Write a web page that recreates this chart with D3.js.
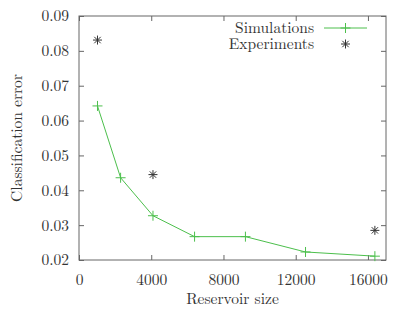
<!DOCTYPE html>
<html>
<head>
    <script src="https://d3js.org/d3.v7.min.js"></script>
    <style>
        body { margin: 0; background: #fff; }
        svg text { fill: #333; }
    </style>
</head>
<body>
    <svg width="416" height="312"></svg>
    <script>
        // reservoir sizes (squares of 32..128)
        var simSizes = [1024, 2304, 4096, 6400, 9216, 12544, 16384];
        var simError = [0.0642, 0.0436, 0.0327, 0.0267, 0.0267, 0.0223, 0.0211];
        var expSizes = [1024, 4096, 16384];
        var expError = [0.0831, 0.0445, 0.0285];
        var xTicks = [0, 4000, 8000, 12000, 16000];
        var yTicks = [0.02, 0.03, 0.04, 0.05, 0.06, 0.07, 0.08, 0.09];

        var svg = d3.select("svg")
            .attr("font-family", "'Latin Modern Roman', 'Liberation Serif', serif");
        var plotLeft = 79, plotRight = 386, plotTop = 16, plotBottom = 260;
        var green = "#4cbf4c", border = "#666";
        var fs = 15.5;

        var x = d3.scaleLinear().domain([0, 17000]).range([plotLeft, plotRight]);
        var y = d3.scaleLinear().domain([0.02, 0.09]).range([plotBottom, plotTop]);

        var tl = 5; // inward tick length

        // bottom and top axes (ticks point inward)
        svg.append("g").attr("transform", "translate(0," + plotBottom + ")")
            .call(d3.axisBottom(x).tickValues(xTicks).tickSize(-tl).tickPadding(14).tickFormat(d3.format("d")))
            .call(styleAxis);
        svg.append("g").attr("transform", "translate(0," + plotTop + ")")
            .call(d3.axisTop(x).tickValues(xTicks).tickSize(-tl).tickFormat(""))
            .call(styleAxis);
        svg.append("g").attr("transform", "translate(" + plotLeft + ",0)")
            .call(d3.axisLeft(y).tickValues(yTicks).tickSize(-tl).tickPadding(10).tickFormat(d3.format(".2f")))
            .call(styleAxis);
        svg.append("g").attr("transform", "translate(" + plotRight + ",0)")
            .call(d3.axisRight(y).tickValues(yTicks).tickSize(-tl).tickFormat(""))
            .call(styleAxis);

        function styleAxis(g) {
            g.attr("font-family", null).attr("font-size", fs);
            g.select(".domain").remove();
            g.selectAll(".tick line").attr("stroke", border);
            g.selectAll(".tick text").attr("fill", "#333");
        }

        svg.append("rect")
            .attr("x", plotLeft).attr("y", plotTop)
            .attr("width", plotRight - plotLeft).attr("height", plotBottom - plotTop)
            .attr("fill", "none").attr("stroke", border).attr("stroke-width", 1);

        // axis titles
        svg.append("text").attr("x", (plotLeft + plotRight) / 2).attr("y", 304)
            .attr("text-anchor", "middle").attr("font-size", fs).text("Reservoir size");
        svg.append("text").attr("transform", "translate(22," + (plotTop + plotBottom) / 2 + ") rotate(-90)")
            .attr("text-anchor", "middle").attr("font-size", fs).text("Classification error");

        // simulations line
        var simData = simSizes.map(function(s, i) { return [s, simError[i]]; });
        svg.append("path").datum(simData)
            .attr("fill", "none").attr("stroke", green).attr("stroke-width", 1)
            .attr("d", d3.line().x(function(d) { return x(d[0]); }).y(function(d) { return y(d[1]); }));

        function plus(g, cx, cy) {
            g.append("path").attr("d", "M" + (cx - 5) + "," + cy + "h10M" + cx + "," + (cy - 5) + "v10")
                .attr("stroke", green).attr("stroke-width", 1).attr("fill", "none");
        }
        function star(g, cx, cy) {
            var r = 4.5, d = 3.2;
            g.append("path")
                .attr("d", "M" + (cx - r) + "," + cy + "h" + 2 * r + "M" + cx + "," + (cy - r) + "v" + 2 * r +
                    "M" + (cx - d) + "," + (cy - d) + "l" + 2 * d + "," + 2 * d +
                    "M" + (cx - d) + "," + (cy + d) + "l" + 2 * d + "," + -2 * d)
                .attr("stroke", "#333").attr("stroke-width", 1).attr("fill", "none");
        }

        var marks = svg.append("g");
        simData.forEach(function(d) { plus(marks, x(d[0]), y(d[1])); });
        expSizes.forEach(function(s, i) { star(marks, x(s), y(expError[i])); });

        // legend
        var lg = svg.append("g").attr("font-size", fs);
        lg.append("text").attr("x", 314).attr("y", 33).attr("text-anchor", "end").text("Simulations");
        lg.append("text").attr("x", 314).attr("y", 49).attr("text-anchor", "end").text("Experiments");
        lg.append("line").attr("x1", 324).attr("x2", 367).attr("y1", 28).attr("y2", 28)
            .attr("stroke", green);
        plus(lg, 345.5, 28);
        star(lg, 345.5, 44);
    </script>
</body>
</html>
